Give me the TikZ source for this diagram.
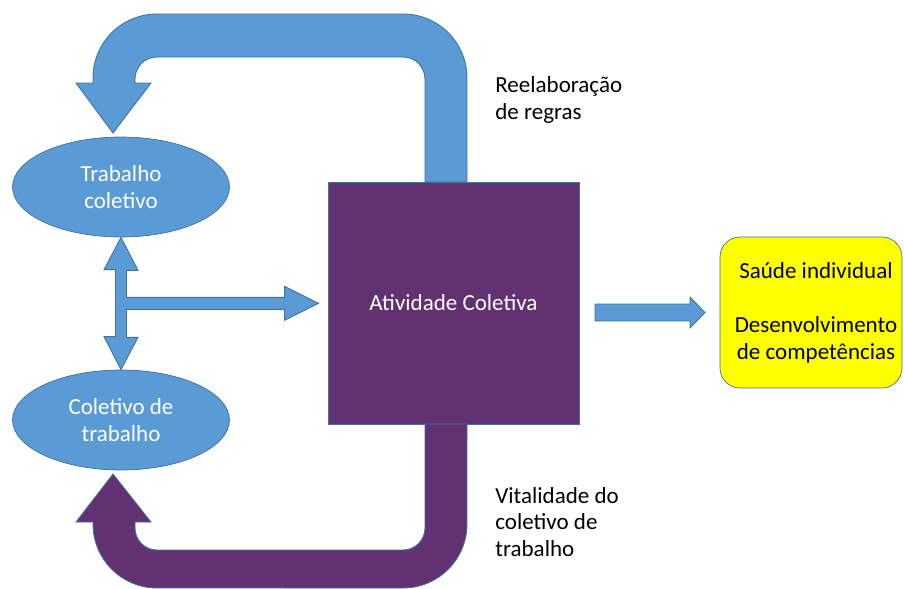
\documentclass[tikz,border=0pt]{standalone}
\usepackage{fontspec}
\setmainfont{Carlito}
\usetikzlibrary{shapes.geometric}

\definecolor{boxblue}{HTML}{5B9BD5}
\definecolor{edgeblue}{HTML}{41719C}
\definecolor{actpurple}{HTML}{613171}
\definecolor{outyellow}{HTML}{FFFF00}

\begin{document}
\begin{tikzpicture}[x=0.02cm, y=-0.02cm,
    every node/.style={font=\fontsize{13.1}{15.3}\selectfont},
    blob/.style={ellipse, fill=boxblue, draw=edgeblue, text=white, align=center,
        minimum width=4.34cm, minimum height=2cm, inner sep=0pt},
    actbox/.style={rectangle, fill=actpurple, draw=edgeblue, text=white,
        minimum width=5.02cm, minimum height=4.84cm},
    outbox/.style={rectangle, rounded corners=0.4cm, fill=outyellow, draw=edgeblue,
        minimum width=3.64cm, minimum height=3.02cm},
    note/.style={anchor=west, align=left, inner sep=0pt},
    fatblue/.style={fill=boxblue, draw=edgeblue, line width=0.5pt},
    fatpurple/.style={fill=actpurple, draw=edgeblue, line width=0.5pt}]

        \useasboundingbox (0,0) rectangle (904,589);

        \node[blob] (tc) at (121,187) {Trabalho\\coletivo};
        \node[blob] (ct) at (121,420) {Coletivo de\\trabalho};
        \node[actbox] (act) at (453.5,303) {Atividade Coletiva};
        \node[outbox] (out) at (811,312.5) {};
        \node[align=center] (outtext) at (816,313) {Saúde individual\\[15.3pt]Desenvolvimento\\de competências};

        \node[note] (rules) at (495,100) {Reelaboração\\de regras};
        \node[note] (vital) at (495,522) {Vitalidade do\\coletivo de\\trabalho};

        % U-turn arrows
        \draw[fatblue] (425,182) -- (425,79) arc[start angle=0, end angle=90, radius=0.44cm]
            -- (157,57) arc[start angle=90, end angle=180, radius=0.44cm]
            -- (135,83) -- (151,83) -- (113,133) -- (76,83) -- (93,83) -- (93,78)
            arc[start angle=180, end angle=90, radius=1.28cm]
            -- (403,14) arc[start angle=90, end angle=0, radius=1.28cm] -- (467,182) -- cycle;
        \draw[fatpurple] (425,424) -- (425,528) arc[start angle=0, end angle=-90, radius=0.44cm]
            -- (157,550) arc[start angle=270, end angle=180, radius=0.44cm]
            -- (135,522) -- (151,522) -- (113,474) -- (76,522) -- (93,522) -- (93,524)
            arc[start angle=180, end angle=270, radius=1.28cm]
            -- (403,588) arc[start angle=270, end angle=360, radius=1.28cm] -- (467,424) -- cycle;

        % double arrow with branch
        \draw[fatblue] (tc.south) -- ++(17,33) -- ++(-11.5,0) -- ++(0,27) -- ++(158,0)
            -- ++(0,-11) -- ++(34,17) -- ++(-34,17) -- ++(0,-11) -- ++(-158,0) -- ++(0,28)
            -- ++(11.5,0) -- (ct.north) -- ++(-17,-33) -- ++(11.5,0) -- ++(0,-67)
            -- ++(-11.5,0) -- cycle;

        \draw[fatblue] (595,304) -- (690,304) -- (690,297) -- (705,312.5) -- (690,328)
            -- (690,321) -- (595,321) -- cycle;
    \end{tikzpicture}
\end{document}
